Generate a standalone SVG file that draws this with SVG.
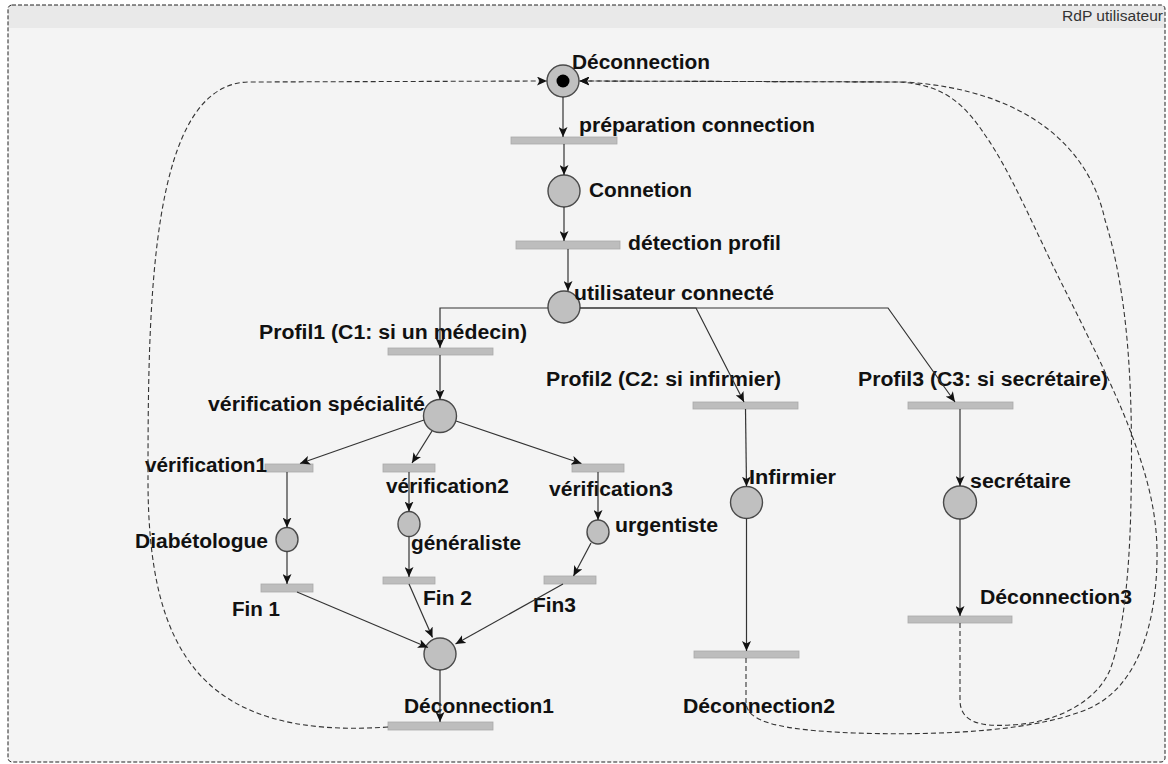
<svg xmlns="http://www.w3.org/2000/svg" width="1168" height="764" viewBox="0 0 1168 764">
<style>
.lbl{font-family:"Liberation Sans",Arial,sans-serif;font-weight:bold;font-size:19.5px;fill:#111}
.place{fill:#c0c0c0;stroke:#4a4a4a;stroke-width:1.4}
.trans{fill:#bdbdbd;stroke:#aaaaaa;stroke-width:0.8}
.arc{fill:none;stroke:#333;stroke-width:1.2;marker-end:url(#ah)}
.darc{fill:none;stroke:#333;stroke-width:1.1;stroke-dasharray:5,3;marker-end:url(#ah)}
</style>
<defs>
<marker id="ah" markerUnits="userSpaceOnUse" markerWidth="10" markerHeight="9" refX="10" refY="4.5" orient="auto">
<path d="M0,0 L10,4.5 L0,9 L2.5,4.5 z" fill="#111"/>
</marker>
</defs>
<rect x="0" y="0" width="1168" height="764" fill="#ffffff"/>
<g id="frame">
<rect x="8" y="5" width="1157" height="757" rx="4" fill="#f4f4f4"/>
<path d="M8,28 V9 Q8,5 12,5 H1161 Q1165,5 1165,9 V28 Z" fill="#e9e9e9"/>
<rect x="8" y="5" width="1157" height="757" rx="4" fill="none" stroke="#222" stroke-width="1" stroke-dasharray="4,2"/>
<text x="1163" y="21" text-anchor="end" textLength="101" lengthAdjust="spacingAndGlyphs" style="font-family:'Liberation Sans',Arial,sans-serif;font-size:14px;fill:#333">RdP utilisateur</text>
</g>

<g id="p-deconnection">
<circle class="place" cx="563" cy="81" r="16"/>
<circle cx="563" cy="81" r="6.5" fill="#000"/>
<text class="lbl" x="572" y="69" textLength="138" lengthAdjust="spacingAndGlyphs">Déconnection</text>
</g>
<g id="t-preparation">
<rect class="trans" x="511" y="137" width="106" height="7"/>
<text class="lbl" x="579" y="132" textLength="236" lengthAdjust="spacingAndGlyphs">préparation connection</text>
</g>
<g id="p-connetion">
<circle class="place" cx="564" cy="191" r="16"/>
<text class="lbl" x="589" y="197" textLength="103" lengthAdjust="spacingAndGlyphs">Connetion</text>
</g>
<g id="t-detection">
<rect class="trans" x="516" y="241" width="104" height="8"/>
<text class="lbl" x="628" y="250" textLength="153" lengthAdjust="spacingAndGlyphs">détection profil</text>
</g>
<g id="p-utilisateur">
<circle class="place" cx="564" cy="307" r="16"/>
<text class="lbl" x="574" y="300" textLength="200" lengthAdjust="spacingAndGlyphs">utilisateur connecté</text>
</g>
<g id="t-profil1">
<rect class="trans" x="388" y="348" width="105" height="7"/>
<text class="lbl" x="259" y="339" textLength="268" lengthAdjust="spacingAndGlyphs">Profil1 (C1: si un médecin)</text>
</g>
<g id="t-profil2">
<rect class="trans" x="693" y="402" width="105" height="7"/>
<text class="lbl" x="546" y="386" textLength="235" lengthAdjust="spacingAndGlyphs">Profil2 (C2: si infirmier)</text>
</g>
<g id="t-profil3">
<rect class="trans" x="908" y="402" width="105" height="7"/>
<text class="lbl" x="858" y="386" textLength="250" lengthAdjust="spacingAndGlyphs">Profil3 (C3: si secrétaire)</text>
</g>
<g id="p-verif-specialite">
<circle class="place" cx="440" cy="416" r="16.5"/>
<text class="lbl" x="208" y="411" textLength="217" lengthAdjust="spacingAndGlyphs">vérification spécialité</text>
</g>
<g id="t-verif1">
<rect class="trans" x="265" y="464" width="48" height="8"/>
<text class="lbl" x="145" y="472" textLength="122" lengthAdjust="spacingAndGlyphs">vérification1</text>
</g>
<g id="t-verif2">
<rect class="trans" x="383" y="464" width="52" height="8"/>
<text class="lbl" x="386" y="493" textLength="123" lengthAdjust="spacingAndGlyphs">vérification2</text>
</g>
<g id="t-verif3">
<rect class="trans" x="572" y="464" width="52" height="8"/>
<text class="lbl" x="549" y="495.5" textLength="124" lengthAdjust="spacingAndGlyphs">vérification3</text>
</g>
<g id="p-diabetologue">
<ellipse class="place" cx="287" cy="539.5" rx="11" ry="12"/>
<text class="lbl" x="135" y="548" textLength="133" lengthAdjust="spacingAndGlyphs">Diabétologue</text>
</g>
<g id="p-generaliste">
<ellipse class="place" cx="409" cy="524" rx="11" ry="12.5"/>
<text class="lbl" x="411" y="550" textLength="110" lengthAdjust="spacingAndGlyphs">généraliste</text>
</g>
<g id="p-urgentiste">
<ellipse class="place" cx="598" cy="532" rx="11" ry="12"/>
<text class="lbl" x="615" y="532" textLength="103" lengthAdjust="spacingAndGlyphs">urgentiste</text>
</g>
<g id="t-fin1">
<rect class="trans" x="261" y="584" width="52" height="8"/>
<text class="lbl" x="232" y="615.5" textLength="48" lengthAdjust="spacingAndGlyphs">Fin 1</text>
</g>
<g id="t-fin2">
<rect class="trans" x="383" y="577" width="52" height="7"/>
<text class="lbl" x="423" y="605" textLength="49" lengthAdjust="spacingAndGlyphs">Fin 2</text>
</g>
<g id="t-fin3">
<rect class="trans" x="544" y="576" width="52" height="8"/>
<text class="lbl" x="533" y="611.5" textLength="43" lengthAdjust="spacingAndGlyphs">Fin3</text>
</g>
<g id="p-fin-medecin">
<circle class="place" cx="440" cy="654" r="16"/>
</g>
<g id="t-deconnection1">
<rect class="trans" x="388" y="722" width="105" height="8"/>
<text class="lbl" x="404" y="713" textLength="150" lengthAdjust="spacingAndGlyphs">Déconnection1</text>
</g>
<g id="p-infirmier">
<circle class="place" cx="746.5" cy="502.5" r="16"/>
<text class="lbl" x="749" y="484" textLength="87" lengthAdjust="spacingAndGlyphs">Infirmier</text>
</g>
<g id="t-deconnection2">
<rect class="trans" x="694" y="651" width="105" height="7"/>
<text class="lbl" x="683" y="713" textLength="152" lengthAdjust="spacingAndGlyphs">Déconnection2</text>
</g>
<g id="p-secretaire">
<circle class="place" cx="960" cy="502.5" r="16.5"/>
<text class="lbl" x="970" y="488" textLength="101" lengthAdjust="spacingAndGlyphs">secrétaire</text>
</g>
<g id="t-deconnection3">
<rect class="trans" x="908" y="616" width="104" height="7"/>
<text class="lbl" x="980" y="604" textLength="152" lengthAdjust="spacingAndGlyphs">Déconnection3</text>
</g>

<g id="connectors">
<path class="arc" d="M563,97 L563,137"/>
<path class="arc" d="M564,144 L564,175"/>
<path class="arc" d="M564,207 L564,241"/>
<path class="arc" d="M568,249 L568,291"/>
<path class="arc" d="M548,308 L440,308 L440,348"/>
<path class="arc" d="M580,308 L696,308 L744,402"/>
<path class="arc" d="M580,308 L888,308 L955,402"/>
<path class="arc" d="M440,355 L440,399.5"/>
<path class="arc" d="M424,420 L300,463.5"/>
<path class="arc" d="M432,431 L412,463"/>
<path class="arc" d="M456,421 L581.5,463.5"/>
<path class="arc" d="M287,472 L287,527.5"/>
<path class="arc" d="M287,551.5 L287,584"/>
<path class="arc" d="M409,472 L409,511.5"/>
<path class="arc" d="M409,536.5 L409,577"/>
<path class="arc" d="M598,472 L598,520"/>
<path class="arc" d="M591,543 L573.5,576"/>
<path class="arc" d="M297,592 L428,647.5"/>
<path class="arc" d="M409,584 L432.5,637.5"/>
<path class="arc" d="M563,584 L455.5,644"/>
<path class="arc" d="M440,670 L440,722"/>
<path class="arc" d="M745.5,409 L746.5,486.5"/>
<path class="arc" d="M746.5,518.5 L746.5,651"/>
<path class="arc" d="M960,409 L960,486"/>
<path class="arc" d="M960,519 L960,616"/>
<path class="darc" d="M388,727 C200,740 148,650 148,480 C148,300 150,82 250,82 L547,81"/>
<path class="darc" d="M746,658 L746,703 C747,722 780,730 854,733 C950,736 1040,730 1090,708 C1140,685 1156,620 1157,560 C1158,510 1145,470 1130,430 C1115,390 1085,330 1060,280 C1035,230 1010,170 985,135 C965,105 945,85 900,82 L579.5,81"/>
<path class="darc" d="M960,623 L960,700 C960,722 980,727 1010,725 C1050,724 1095,705 1110,670 C1125,630 1130,560 1131,500 C1133,400 1130,300 1105,220 C1090,150 1030,90 905,82 L579.5,81"/>
</g>
</svg>
